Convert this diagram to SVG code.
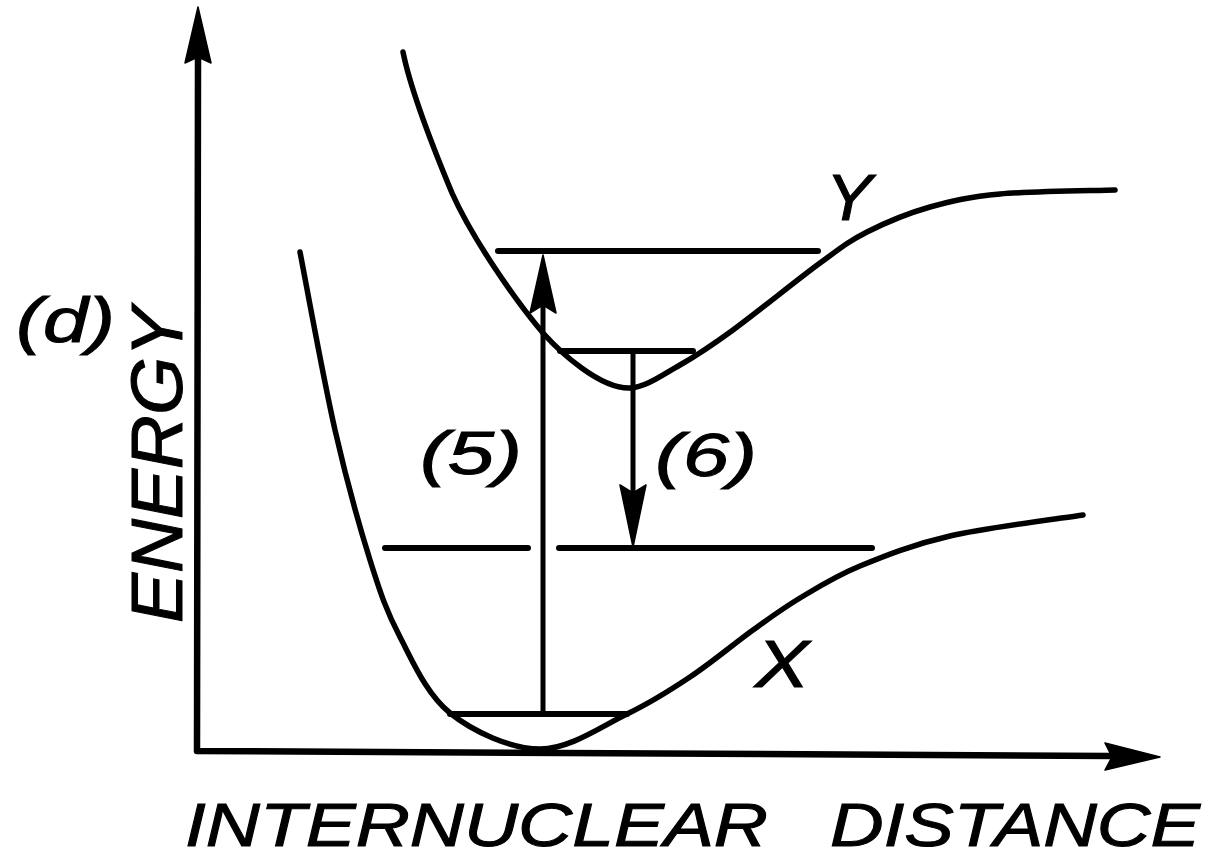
<svg xmlns="http://www.w3.org/2000/svg" width="1213" height="860" viewBox="0 0 1213 860">
<style>
.ln{fill:none;stroke:#000;stroke-linecap:round;stroke-linejoin:round}
.ax{stroke-width:6.5}
.cv{stroke-width:5.5}
.lv{stroke-width:6}
.ar{stroke-width:5}
.hd{fill:#000;stroke:#000;stroke-width:1.5;stroke-linejoin:round}
.lb{font-family:"Liberation Sans",Arial,sans-serif;font-style:italic;fill:#000;stroke:#000;stroke-width:1}
</style>
<rect width="1213" height="860" fill="#fff"/>
<g id="axes">
<path class="ln ax" d="M198,58 L197,751 L1110,756"/>
<path class="hd" d="M198,7 L211,63 L198,57 L185,63 Z"/>
<path class="hd" d="M1160,757 L1105,770 L1112,757 L1105,743 Z"/>
</g>
<g id="curve-X">
<path class="ln cv" d="M300,252 C305.8,281.7 323.3,378.7 335,430 C346.7,481.3 359.2,525.5 370,560 C380.8,594.5 386.7,611.5 400,637 C413.3,662.5 426.7,694.3 450,713 C473.3,731.7 510.5,748.8 540,749 C569.5,749.2 602,726 627,714 C652,702 669,691 690,677 C711,663 734.7,643.2 753,630 C771.3,616.8 782.2,608.7 800,598 C817.8,587.3 835,576.3 860,566 C885,555.7 912.8,544.5 950,536 C987.2,527.5 1060.8,518.5 1083,515"/>
</g>
<g id="curve-Y">
<path class="ln cv" d="M403,52 C411,92 432,145 452,193 C472,238 515,300 543,333 C560,352 600,389 630,388 C645.8,387.3 662.8,374.7 680,365 C697.2,355.3 709.7,347 733,330 C756.3,313 797.7,279.3 820,263 C842.3,246.7 848.7,241.3 867,232 C885.3,222.7 907.8,213.3 930,207 C952.2,200.7 969.2,196.8 1000,194 C1030.8,191.2 1095.8,190.7 1115,190"/>
</g>
<g id="levels">
<path class="ln lv" d="M498,251 L818,251"/>
<path class="ln lv" d="M560,351 L693,351"/>
<path class="ln lv" d="M385,548 L528,548 M559,548 L872,548"/>
<path class="ln lv" d="M450,714 L627,714"/>
</g>
<g id="connectors">
<path class="ln ar" d="M543,714 L543,300"/>
<path class="hd" d="M543,255 L556,313 L543,305 L530,313 Z"/>
<path class="ln ar" d="M633,351 L633,495"/>
<path class="hd" d="M633,547 L646,485 L633,493 L620,485 Z"/>
</g>
<g id="labels">
<text class="lb" x="16" y="342" font-size="63" textLength="99" lengthAdjust="spacingAndGlyphs">(d)</text>
<text class="lb" transform="translate(182,623) rotate(-90)" x="0" y="0" font-size="72" textLength="316" lengthAdjust="spacingAndGlyphs">ENERGY</text>
<text class="lb" x="185" y="846" font-size="62" textLength="583" lengthAdjust="spacingAndGlyphs">INTERNUCLEAR</text>
<text class="lb" x="830" y="846" font-size="62" textLength="370" lengthAdjust="spacingAndGlyphs">DISTANCE</text>
<text class="lb" x="420" y="474" font-size="62" textLength="102" lengthAdjust="spacingAndGlyphs">(5)</text>
<text class="lb" x="655" y="476" font-size="62" textLength="102" lengthAdjust="spacingAndGlyphs">(6)</text>
<text class="lb" x="826" y="220" font-size="64" textLength="46" lengthAdjust="spacingAndGlyphs">Y</text>
<text class="lb" x="755" y="687" font-size="66" textLength="54" lengthAdjust="spacingAndGlyphs">X</text>
</g>
</svg>
